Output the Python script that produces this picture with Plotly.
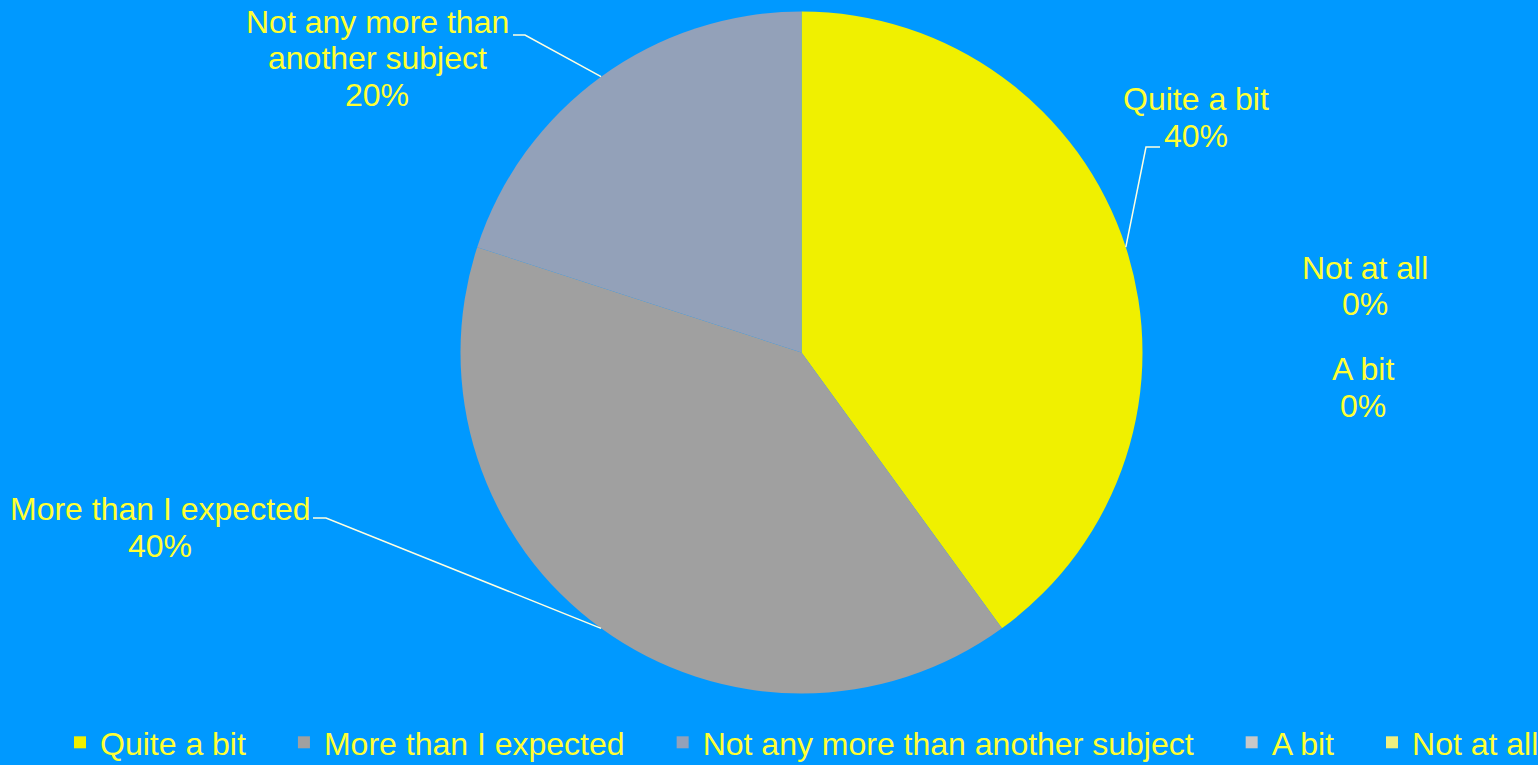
import math
import plotly.graph_objects as go

# ---- data ----
categories = ["Quite a bit", "More than I expected", "Not any more than another subject", "A bit", "Not at all"]
values = [40, 40, 20, 0, 0]
label_lines = [
    ["Quite a bit"],
    ["More than I expected"],
    ["Not any more than", "another subject"],
    ["A bit"],
    ["Not at all"],
]

# ---- style ----
slice_colors = ["#F0F000", "#A0A0A0", "#93A1B9", "#C8C8C8", "#F0F080"]
BG = "#0099FF"
TXT = "#FFFF33"
LEADER = "#FFFFE0"
FONT = "Liberation Sans, Arial, sans-serif"
FS = 32
W, H = 1538, 765
PAD = "\u00a0" * 3 + "\u2009"  # extra spacing after legend entries

# pie geometry in pixels
CX, CY, R = 801.5, 352.5, 341
dom_x = [(CX - R) / W, (CX + R) / W]
dom_y = [1 - (CY + R) / H, 1 - (CY - R) / H]

legend_labels = [c + (PAD if i < len(categories) - 1 else "") for i, c in enumerate(categories)]

fig = go.Figure(go.Pie(
    labels=legend_labels,
    values=values,
    sort=False,
    direction="clockwise",
    rotation=0,
    marker=dict(colors=slice_colors, line=dict(width=0)),
    textinfo="none",
    hoverinfo="label+percent",
    domain=dict(x=dom_x, y=dom_y),
    showlegend=True,
))

# label layout: (center x, first line y, leader elbow, leader end) in pixels
label_pos = {
    0: dict(x=1196, y=99, elbow=(1146, 147), end=(1160, 147)),
    1: dict(x=160, y=509, elbow=(326, 518), end=(313, 518)),
    2: dict(x=377, y=22, elbow=(525, 35), end=(513, 35)),
    3: dict(x=1363, y=369),
    4: dict(x=1365, y=268),
}
LINE_H = 36.5

total = sum(values)
annotations = []
shapes = []
cum = 0
for i, (lines, v) in enumerate(zip(label_lines, values)):
    pct = f"{round(100 * v / total)}%"
    p = label_pos[i]
    all_lines = lines + [pct]
    for k, ln in enumerate(all_lines):
        annotations.append(dict(
            x=p["x"] / W, y=1 - (p["y"] + k * LINE_H) / H,
            xref="paper", yref="paper", text=ln, showarrow=False,
            xanchor="center", yanchor="middle",
            font=dict(family=FONT, size=FS, color=TXT),
        ))
    if "elbow" in p and v > 0:
        mid = (cum + v / 2) / total * 2 * math.pi
        sx = CX + R * math.sin(mid)
        sy = CY - R * math.cos(mid)
        ex, ey = p["elbow"]
        tx, ty = p["end"]
        path = (f"M {sx/W},{1-sy/H} L {ex/W},{1-ey/H} L {tx/W},{1-ty/H}")
        shapes.append(dict(type="path", xref="paper", yref="paper", path=path,
                           line=dict(color=LEADER, width=1.5)))
    cum += v

fig.update_layout(
    width=W, height=H,
    paper_bgcolor=BG, plot_bgcolor=BG,
    margin=dict(l=0, r=0, t=0, b=0, autoexpand=False),
    annotations=annotations,
    shapes=shapes,
    legend=dict(
        orientation="h",
        x=60 / W, xanchor="left", y=-5 / H, yanchor="bottom",
        font=dict(family=FONT, size=FS, color=TXT),
        bgcolor="rgba(0,0,0,0)",
    ),
)

fig.write_html(
    "out.html",
    config={"displayModeBar": False},
    post_script="document.body.style.margin='0';document.body.style.overflow='hidden';",
)
